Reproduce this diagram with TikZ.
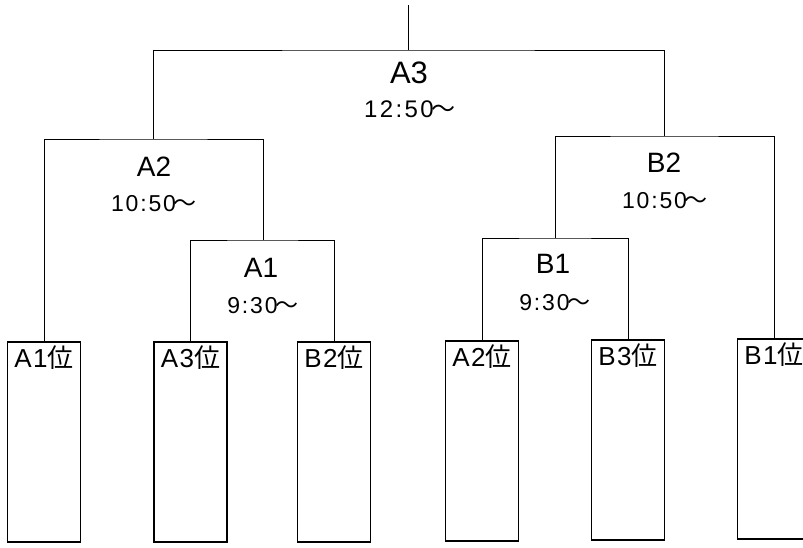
\documentclass[tikz,border=0pt]{standalone}
\usepackage{fontspec}
\setmainfont{Liberation Sans}
\newfontfamily\jpfont{Noto Sans CJK JP}
\usetikzlibrary{calc}

\begin{document}
\begin{tikzpicture}[x=1pt,y=-1pt,
    tree/.style={line width=0.9pt},
    seat/.style={draw, line width=1.8pt, minimum width=73pt, minimum height=200pt, inner sep=0pt},
    seatlabel/.style={font=\fontsize{26}{28}\selectfont\addfontfeature{LetterSpace=5}, inner sep=0pt, anchor=base},
    bigname/.style={font=\fontsize{31}{36}\selectfont, inner sep=0pt, anchor=base},
    bigtime/.style={font=\fontsize{24}{26}\selectfont\addfontfeature{LetterSpace=10}, inner sep=0pt, anchor=base},
    matchname/.style={font=\fontsize{28}{32}\selectfont, inner sep=0pt, anchor=base},
    matchtime/.style={font=\fontsize{23}{24}\selectfont\addfontfeature{LetterSpace=8}, inner sep=0pt, anchor=base}]
    \clip (0,0) rectangle (803,547);

    % Seats
    \node[seat] (s1) at (44,442) {};
    \node[seat] (s2) at (190.5,442) {};
    \node[seat] (s3) at (334,442) {};
    \node[seat] (s4) at (482,441) {};
    \node[seat] (s5) at (628,440) {};
    \node[seat] (s6) at (774,439) {};

    \node[seatlabel] (l1) at ($(s1.north)+(0,26)$) {A1{\jpfont 位}};
    \node[seatlabel] (l2) at ($(s2.north)+(0,26)$) {A3{\jpfont 位}};
    \node[seatlabel] (l3) at ($(s3.north)+(0,26)$) {B2{\jpfont 位}};
    \node[seatlabel] (l4) at ($(s4.north)+(0,26)$) {A2{\jpfont 位}};
    \node[seatlabel] (l5) at ($(s5.north)+(0,26)$) {B3{\jpfont 位}};
    \node[seatlabel] (l6) at ($(s6.north)+(0,26)$) {B1{\jpfont 位}};

    % Matches
    \coordinate (top) at (408,5);
    \coordinate (a3) at (408,50);
    \coordinate (a2) at (153,139);
    \coordinate (a1) at (263,240);
    \coordinate (b2) at (664,136);
    \coordinate (b1) at (555,238);

    % Lines
    \draw[tree] (top) -- (a3);
    \draw[tree] (a2) |- (a3) -| (b2);
    \draw[tree] (s1.north) |- (a2) -| (a1);
    \draw[tree] (s2.north) |- (a1) -| (s3.north);
    \draw[tree] (s4.north) |- (b1) -| (s5.north);
    \draw[tree] (b1) |- (b2) -| (s6.north);

    % Labels
    \node[bigname] (a3n) at ($(a3)+(1,33)$) {A3};
    \node[bigtime] (a3t) at ($(a3)+(2,67)$) {12:50\kern-2pt{\jpfont ～}};
    \node[matchname] (a2n) at ($(a2)+(1,37)$) {A2};
    \node[matchtime] (a2t) at ($(a2)+(1,72)$) {10:50\kern-2pt{\jpfont ～}};
    \node[matchname] (a1n) at ($(a1)+(-2,37)$) {A1};
    \node[matchtime] (a1t) at ($(a1)+(0,73)$) {9:30\kern-2pt{\jpfont ～}};
    \node[matchname] (b2n) at ($(b2)+(0,36)$) {B2};
    \node[matchtime] (b2t) at ($(b2)+(1,72)$) {10:50\kern-2pt{\jpfont ～}};
    \node[matchname] (b1n) at ($(b1)+(-2,35)$) {B1};
    \node[matchtime] (b1t) at ($(b1)+(0,72)$) {9:30\kern-2pt{\jpfont ～}};
\end{tikzpicture}
\end{document}
